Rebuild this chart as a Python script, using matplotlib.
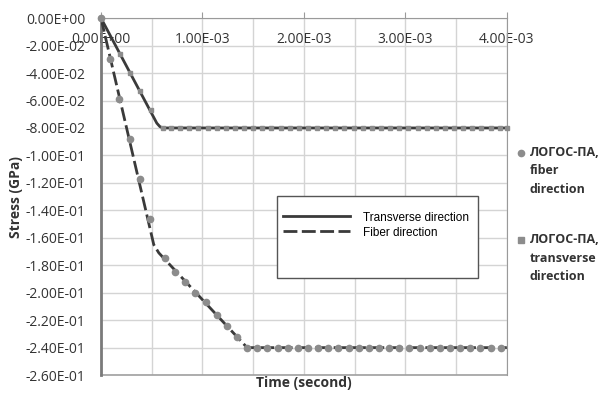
import matplotlib.pyplot as plt
from matplotlib.lines import Line2D
from matplotlib.patches import Rectangle
from matplotlib.ticker import FuncFormatter, MultipleLocator

# model curves (time in s, stress in GPa)
t_trans = [0, 0.55e-3, 0.58e-3, 0.61e-3, 4.0e-3]
s_trans = [0, -0.0765, -0.0790, -0.080, -0.080]
t_fiber = [0, 0.52e-3, 0.57e-3, 1.44e-3, 4.0e-3]
s_fiber = [0, -0.165, -0.171, -0.240, -0.240]

# ЛОГОС-ПА points, fiber direction
lf_t = [0, 0.09e-3, 0.18e-3, 0.29e-3, 0.38e-3, 0.48e-3, 0.63e-3, 0.73e-3, 0.83e-3,
        0.93e-3, 1.03e-3, 1.14e-3, 1.24e-3, 1.34e-3, 1.44e-3, 1.54e-3, 1.64e-3,
        1.74e-3, 1.84e-3, 1.94e-3, 2.04e-3, 2.14e-3, 2.24e-3, 2.34e-3, 2.44e-3,
        2.54e-3, 2.64e-3, 2.74e-3, 2.84e-3, 2.94e-3, 3.04e-3, 3.14e-3, 3.24e-3,
        3.34e-3, 3.44e-3, 3.54e-3, 3.64e-3, 3.74e-3, 3.84e-3, 3.94e-3]
lf_s = [0, -0.030, -0.059, -0.088, -0.117, -0.146, -0.175, -0.185, -0.192,
        -0.200, -0.207, -0.216, -0.224, -0.232, -0.240, -0.240, -0.240,
        -0.240, -0.240, -0.240, -0.240, -0.240, -0.240, -0.240, -0.240,
        -0.240, -0.240, -0.240, -0.240, -0.240, -0.240, -0.240, -0.240,
        -0.240, -0.240, -0.240, -0.240, -0.240, -0.240, -0.240]

# ЛОГОС-ПА points, transverse direction
lt_t = [0, 0.19e-3, 0.29e-3, 0.38e-3, 0.49e-3, 0.61e-3, 0.69e-3, 0.78e-3, 0.87e-3,
        0.96e-3, 1.05e-3, 1.14e-3, 1.23e-3, 1.32e-3, 1.41e-3, 1.50e-3, 1.59e-3,
        1.68e-3, 1.77e-3, 1.86e-3, 1.95e-3, 2.04e-3, 2.13e-3, 2.22e-3, 2.31e-3,
        2.40e-3, 2.49e-3, 2.58e-3, 2.67e-3, 2.76e-3, 2.85e-3, 2.94e-3, 3.03e-3,
        3.12e-3, 3.21e-3, 3.30e-3, 3.39e-3, 3.48e-3, 3.57e-3, 3.66e-3, 3.75e-3,
        3.84e-3, 3.93e-3, 4.0e-3]
lt_s = [0, -0.026, -0.040, -0.053, -0.067, -0.080, -0.080, -0.080, -0.080,
        -0.080, -0.080, -0.080, -0.080, -0.080, -0.080, -0.080, -0.080,
        -0.080, -0.080, -0.080, -0.080, -0.080, -0.080, -0.080, -0.080,
        -0.080, -0.080, -0.080, -0.080, -0.080, -0.080, -0.080, -0.080,
        -0.080, -0.080, -0.080, -0.080, -0.080, -0.080, -0.080, -0.080,
        -0.080, -0.080, -0.080]

plt.rcParams['font.family'] = ['Open Sans', 'DejaVu Sans']

W, H = 603, 394
fig = plt.figure(figsize=(6.03, 3.94), dpi=100)
ax = fig.add_axes([0.1675, 0.048, 0.673, 0.906])

line_c = '#3a3a3a'
mark_c = '#8c8c8c'
txt_c = '#333333'

lt, = ax.plot(t_trans, s_trans, color=line_c, lw=2, zorder=3)
lfb, = ax.plot(t_fiber, s_fiber, color=line_c, lw=2, dashes=(5, 1.6), zorder=3)
ax.plot(lf_t, lf_s, 'o', color=mark_c, ms=4.5, zorder=4, clip_on=False)
ax.plot(lt_t, lt_s, 's', color=mark_c, ms=3.5, zorder=4, clip_on=False)

ax.set_xlim(0, 4e-3)
ax.set_ylim(-0.26, 0)
ax.xaxis.set_major_locator(MultipleLocator(1e-3))
ax.xaxis.set_minor_locator(MultipleLocator(0.5e-3))
ax.yaxis.set_major_locator(MultipleLocator(0.02))

def sci(v, pos):
    if abs(v) < 1e-12:
        return '0.00E+00'
    return '%.2E' % v

ax.xaxis.set_major_formatter(FuncFormatter(sci))
ax.yaxis.set_major_formatter(FuncFormatter(sci))

ax.grid(True, which='both', color='#d4d4d4', lw=1)
ax.set_axisbelow(True)

ax.spines['bottom'].set_position(('data', 0))
ax.spines['bottom'].set_color('#9a9a9a')
ax.spines['left'].set_color('#7a7a7a')
ax.spines['left'].set_linewidth(2)
ax.spines['right'].set_color('#9a9a9a')
ax.spines['top'].set_visible(False)
ax.tick_params(axis='x', which='major', direction='in', length=4, color='#9a9a9a',
               labelsize=10, labelcolor=txt_c, pad=10)
ax.tick_params(axis='x', which='minor', length=0)
ax.tick_params(axis='y', length=0, labelsize=10, labelcolor=txt_c, pad=11)

# frame line at the bottom of plot area
ax.axhline(-0.26, color='#a0a0a0', lw=1.2, clip_on=False)

ax.set_ylabel('Stress (GPa)', fontsize=10, fontweight='bold', color=txt_c, labelpad=2)
fig.text(304 / W, 1 - 383 / H, 'Time (second)', fontsize=10, fontweight='bold',
         color=txt_c, ha='center', va='center')

# inner legend box
ax.add_patch(Rectangle((0.4335, 0.2717), 0.495, 0.2297, transform=ax.transAxes,
                       facecolor='white', edgecolor='#555555', lw=1, zorder=5))
leg = ax.legend([lt, lfb], ['Transverse direction', 'Fiber direction'],
                loc='upper left', bbox_to_anchor=(0.448, 0.458), frameon=False,
                handlelength=5.7, handletextpad=1.1, borderpad=0, borderaxespad=0,
                prop={'family': 'Liberation Sans', 'size': 8.5}, labelspacing=0.25)
leg.set_zorder(6)

# outer legend (ЛОГОС-ПА)
outer = [('o', 153, 'ЛОГОС-ПА,\nfiber\ndirection'),
         ('s', 240, 'ЛОГОС-ПА,\ntransverse\ndirection')]
for mk, yp, lab in outer:
    fig.add_artist(Line2D([521 / W], [1 - yp / H], marker=mk, color=mark_c,
                          ms=4.5 if mk == 'o' else 4, transform=fig.transFigure))
    fig.text(530 / W, 1 - (yp - 7) / H, lab, fontsize=9, fontweight='bold',
             color=txt_c, ha='left', va='top', linespacing=1.55)

fig.savefig('out.png', dpi=100)
